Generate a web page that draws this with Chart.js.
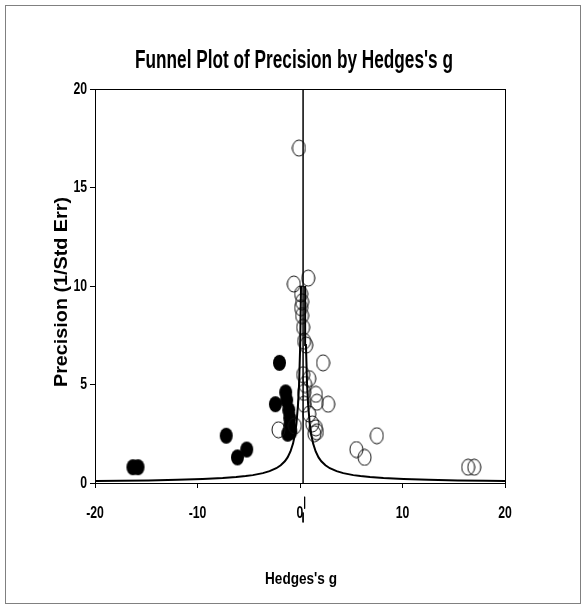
<!DOCTYPE html>
<html lang="en">
  <head>
    <meta charset="UTF-8" />
    <title>Funnel Plot of Precision by Hedges's g</title>
    <script src="https://cdn.jsdelivr.net/npm/chart.js"></script>
    <style>
      body { margin: 0; background: #fff; }
      .frame { position: absolute; left: 5px; top: 5px; width: 574px; height: 597px; border: 1px solid #808080; }
      #myChart { position: absolute; left: 0; top: 0; }
    </style>
  </head>
  <body>
    <div class="frame"></div>
    <canvas id="myChart" width="585" height="607"></canvas>
    <script>
      // observed studies (open circles)
      const observedG = [-0.1, -0.6, 0.8, 0.1, 0.2, 0.1, 0.2, 0.3, 0.4, 0.6, 2.25, 0.3, 0.9, 0.5, 0.4, 1.55, 1.65, 2.75, 0.4, 0.9, 1.2, 1.55, 1.65, 1.4, -2.1, -0.5, 5.5, 6.3, 7.5, 16.4, 17.0];
      const observedP = [17.0, 10.1, 10.4, 9.6, 9.2, 8.9, 8.5, 7.9, 7.2, 7.0, 6.1, 5.5, 5.3, 5.0, 4.6, 4.5, 4.1, 4.0, 4.0, 3.5, 3.0, 2.8, 2.6, 2.5, 2.7, 2.9, 1.7, 1.3, 2.4, 0.8, 0.8];
      // imputed studies (filled circles)
      const imputedG = [-16.3, -15.8, -7.2, -6.1, -5.2, -2.0, -2.4, -1.4, -1.3, -1.1, -1.0, -1.0, -0.9, -1.2];
      const imputedP = [0.8, 0.8, 2.4, 1.3, 1.7, 6.1, 4.0, 4.6, 4.2, 3.7, 3.3, 2.9, 2.6, 2.5];
      const meanG = 0.3;
      // funnel limits
      const funnelP = [0.097, 0.11, 0.13, 0.16, 0.2, 0.25, 0.3, 0.35, 0.4, 0.5, 0.6, 0.75, 0.9, 1.1, 1.3, 1.6, 2, 2.5, 3, 4, 5, 7, 10];
      const funnelLeftG = [-19.91, -17.52, -14.78, -11.95, -9.5, -7.54, -6.23, -5.3, -4.6, -3.62, -2.97, -2.31, -1.88, -1.48, -1.21, -0.93, -0.68, -0.48, -0.35, -0.19, -0.09, 0.02, 0.1];
      const funnelRightG = [20.51, 18.12, 15.38, 12.55, 10.1, 8.14, 6.83, 5.9, 5.2, 4.22, 3.57, 2.91, 2.48, 2.08, 1.81, 1.53, 1.28, 1.08, 0.95, 0.79, 0.69, 0.58, 0.5];
      // summary marks below the axis
      const summaryG = [0.45, 0.3];
      const summaryTop = [-0.7, -1.5];
      const summaryBottom = [-1.3, -2.0];
      const xTicks = [-20, -10, 0, 10, 20];
      const yTicks = [0, 5, 10, 15, 20];

      const fontFamily = "'Liberation Sans', Arial, sans-serif";

      function ellipse(filled) {
        const c = document.createElement("canvas");
        c.width = 15;
        c.height = 18;
        const g = c.getContext("2d");
        g.beginPath();
        g.ellipse(7.5, 9, 6.5, 8, 0, 0, Math.PI * 2);
        if (filled) {
          g.fillStyle = "#000";
          g.fill();
        } else {
          g.lineWidth = 1;
          g.strokeStyle = "#111";
          g.stroke();
        }
        return c;
      }

      function toPoints(xs, ys) {
        return xs.map(function (x, i) {
          return { x: x, y: ys[i] };
        });
      }

      // narrow bold text, squeezed horizontally like Arial Narrow
      function narrowText(ctx, text, x, y, size, squeeze, align, angle) {
        ctx.save();
        ctx.translate(x, y);
        if (angle) ctx.rotate(angle);
        ctx.scale(squeeze, 1);
        ctx.font = "bold " + size + "px " + fontFamily;
        ctx.fillStyle = "#000";
        ctx.textAlign = align;
        ctx.textBaseline = "middle";
        ctx.fillText(text, 0, 0);
        ctx.restore();
      }

      function fitText(ctx, text, x, y, size, width, angle) {
        ctx.save();
        ctx.font = "bold " + size + "px " + fontFamily;
        const w = ctx.measureText(text).width;
        ctx.restore();
        narrowText(ctx, text, x, y, size, width / w, "center", angle);
      }

      const frame = {
        id: "frame",
        afterDatasetsDraw(chart) {
          const a = chart.chartArea;
          const ctx = chart.ctx;
          ctx.save();
          ctx.strokeStyle = "#000";
          ctx.lineWidth = 1;
          ctx.strokeRect(a.left + 0.5, a.top + 0.5, a.right - a.left, a.bottom - a.top);
          ctx.restore();
        },
        afterDraw(chart) {
          const ctx = chart.ctx;
          const xs = chart.scales.x;
          const ys = chart.scales.y;
          fitText(ctx, "Funnel Plot of Precision by Hedges's g", 294, 61, 25, 318, 0);
          xTicks.forEach(function (v) {
            narrowText(ctx, String(v), xs.getPixelForValue(v), 513, 17, 0.72, "center", 0);
          });
          yTicks.forEach(function (v) {
            narrowText(ctx, String(v), ys.left + 87, ys.getPixelForValue(v), 17, 0.72, "right", 0);
          });
          fitText(ctx, "Hedges's g", 301, 580, 16, 72, 0);
          fitText(ctx, "Precision (1/Std Err)", 62, 292, 19, 190, -Math.PI / 2);
        },
      };

      const datasets = [
        {
          data: [{ x: meanG, y: 0 }, { x: meanG, y: 20 }],
          showLine: true,
          borderColor: "#000",
          borderWidth: 1.5,
          pointRadius: 0,
        },
        {
          data: toPoints(funnelLeftG, funnelP),
          showLine: true,
          borderColor: "#000",
          borderWidth: 2,
          pointRadius: 0,
        },
        {
          data: toPoints(funnelRightG, funnelP),
          showLine: true,
          borderColor: "#000",
          borderWidth: 2,
          pointRadius: 0,
        },
      ];
      summaryG.forEach(function (g, i) {
        datasets.push({
          data: [{ x: g, y: summaryTop[i] }, { x: g, y: summaryBottom[i] }],
          showLine: true,
          borderColor: "#000",
          borderWidth: 1,
          pointRadius: 0,
          clip: false,
        });
      });
      datasets.push({ data: toPoints(observedG, observedP), pointStyle: ellipse(false) });
      datasets.push({ data: toPoints(imputedG, imputedP), pointStyle: ellipse(true) });

      const ctx = document.querySelector("#myChart");
      new Chart(ctx, {
        type: "scatter",
        data: { datasets: datasets },
        options: {
          responsive: false,
          animation: false,
          layout: { padding: { left: 0, right: 80, top: 89, bottom: 0 } },
          plugins: {
            legend: { display: false },
            tooltip: { enabled: false },
          },
          scales: {
            x: {
              type: "linear",
              min: -20,
              max: 20,
              afterBuildTicks(s) {
                s.ticks = xTicks.map(function (v) { return { value: v }; });
              },
              afterFit(s) {
                s.height = 124;
              },
              ticks: { display: false },
              grid: { drawOnChartArea: false, tickLength: 5, color: "#000" },
              border: { color: "#000" },
            },
            y: {
              type: "linear",
              min: 0,
              max: 20,
              afterBuildTicks(s) {
                s.ticks = yTicks.map(function (v) { return { value: v }; });
              },
              afterFit(s) {
                s.width = 95;
              },
              ticks: { display: false },
              grid: { drawOnChartArea: false, tickLength: 5, color: "#000" },
              border: { color: "#000" },
            },
          },
        },
        plugins: [frame],
      });
    </script>
  </body>
</html>
